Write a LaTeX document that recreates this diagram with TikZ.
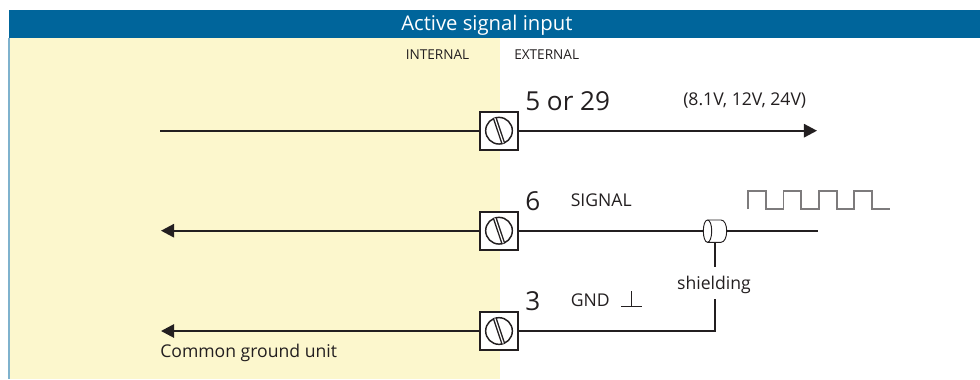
\documentclass[tikz,border=0pt]{standalone}
\usepackage{fontspec}
\setmainfont{Open Sans}
\usetikzlibrary{arrows.meta,calc}
\definecolor{hdr}{HTML}{00659B}
\definecolor{yel}{HTML}{FCF7CD}
\definecolor{edge}{HTML}{7FB2CD}
\definecolor{ink}{HTML}{231F20}
\definecolor{pulse}{HTML}{7D7B7C}
\tikzset{
  x=0.75pt,y=-0.75pt,
  wire/.style={draw=ink,line width=1.5pt},
  arrowwire/.style={wire,-{Triangle[length=9.8pt,width=10pt]}},
  terminal/.style={draw=ink,fill=white,line width=1.5pt,minimum size=28.5pt,inner sep=0pt,outer sep=0pt},
  screw/.style={draw=ink,line width=1.1pt,fill=white},
  lbl/.style={text=ink,font=\fontsize{13.2}{16}\selectfont,inner sep=0pt,anchor=base west},
  small/.style={lbl,font=\fontsize{10.2}{12}\selectfont},
  num/.style={text=ink,font=\fontsize{19.6}{23}\selectfont,inner sep=0pt,anchor=base west},
}
\newcommand{\screwhead}[1]{%
  \draw[screw] (#1) circle (10pt);
  \draw[ink,line width=3pt] ($(#1)+(-4.2,-12.5)$) -- ($(#1)+(4.2,12.5)$);
  \draw[white,line width=0.9pt] ($(#1)+(-4.2,-12.5)$) -- ($(#1)+(4.2,12.5)$);
}
\begin{document}
\begin{tikzpicture}
\useasboundingbox (0,0) rectangle (980,379);
\fill[yel] (9,38) rectangle (500,379);
\fill[edge] (8,38) rectangle (10,379);
\fill[hdr] (9,10) rectangle (980,38);
\node[text=white,font=\fontsize{15.2}{18}\selectfont,inner sep=0pt,anchor=base west] (titletext) at (401,30.7) {Active signal input};
\node[small] (internal) at (405.5,59) {INTERNAL};
\node[small] (external) at (514,59) {EXTERNAL};

\node[terminal] (t1) at (499,130.7) {};
\node[terminal] (t2) at (499,230.7) {};
\node[terminal] (t3) at (499,331) {};

\coordinate (a1) at (160,130.7);
\coordinate (b1) at (817,130.7);
\coordinate (a2) at (161,230.7);
\coordinate (b2) at (703.5,230.7);
\coordinate (c2) at (726.5,230.7);
\coordinate (d2) at (817.7,230.7);
\coordinate (a3) at (161,331);
\coordinate (b3) at (715.3,331);
\coordinate (s1) at (715.3,242);
\coordinate (s2) at (715.3,266.7);
\coordinate (s3) at (715.3,299.3);

\draw[wire] (a1) -- (t1);
\draw[arrowwire] (t1) -- (b1);
\draw[arrowwire] (t2) -- (a2);
\draw[wire] (t2) -- (b2);
\draw[wire] (c2) -- (d2);
\draw[arrowwire] (t3) -- (a3);
\draw[wire,line join=miter] (t3) -- (b3) -- (s3);
\draw[wire] (s1) -- (s2);
\screwhead{t1}\screwhead{t2}\screwhead{t3}

% shield
\draw[ink,line width=0.7pt,fill=white] (707.5,220) -- (721,220)
  .. controls (724.5,220) and (726.7,225) .. (726.7,231)
  .. controls (726.7,237) and (724.5,242.3) .. (721,242.3) -- (707.5,242.3)
  .. controls (705,242.3) and (703.3,237) .. (703.3,231)
  .. controls (703.3,225) and (705,220) .. (707.5,220) -- cycle;
\draw[ink,line width=0.7pt] (707.5,220)
  .. controls (710,220) and (711.7,225) .. (711.7,231)
  .. controls (711.7,237) and (710,242.3) .. (707.5,242.3);

% pulse
\draw[draw=pulse,line width=1.2pt] (747.7,209) -- (747.7,190.7) -- (765.7,190.7) -- (765.7,209) -- (783.3,209)
  -- (783.3,190.7) -- (801,190.7) -- (801,209) -- (818.7,209) -- (818.7,190.7) -- (836.7,190.7)
  -- (836.7,209) -- (854,209) -- (854,190.7) -- (872,190.7) -- (872,209) -- (890,209);

% ground symbol
\draw[ink,line width=1pt] (631.3,306.7) -- (631.3,291) (621,306.7) -- (641.7,306.7);

\node[num] (n1) at (525,110.7) {5 or 29};
\node[num] (n2) at (525,210.7) {6};
\node[num] (n3) at (525,310) {3};
\node[lbl] (v) at (683,105.7) {(8.1V, 12V, 24V)};
\node[lbl] (sig) at (570.5,206.7) {SIGNAL};
\node[lbl] (gnd) at (570.5,306.7) {GND};
\node[lbl,anchor=base] (sh) at (714,289.3) {shielding};
\node[lbl] (cg) at (160,357.7) {Common ground unit};
\end{tikzpicture}
\end{document}
